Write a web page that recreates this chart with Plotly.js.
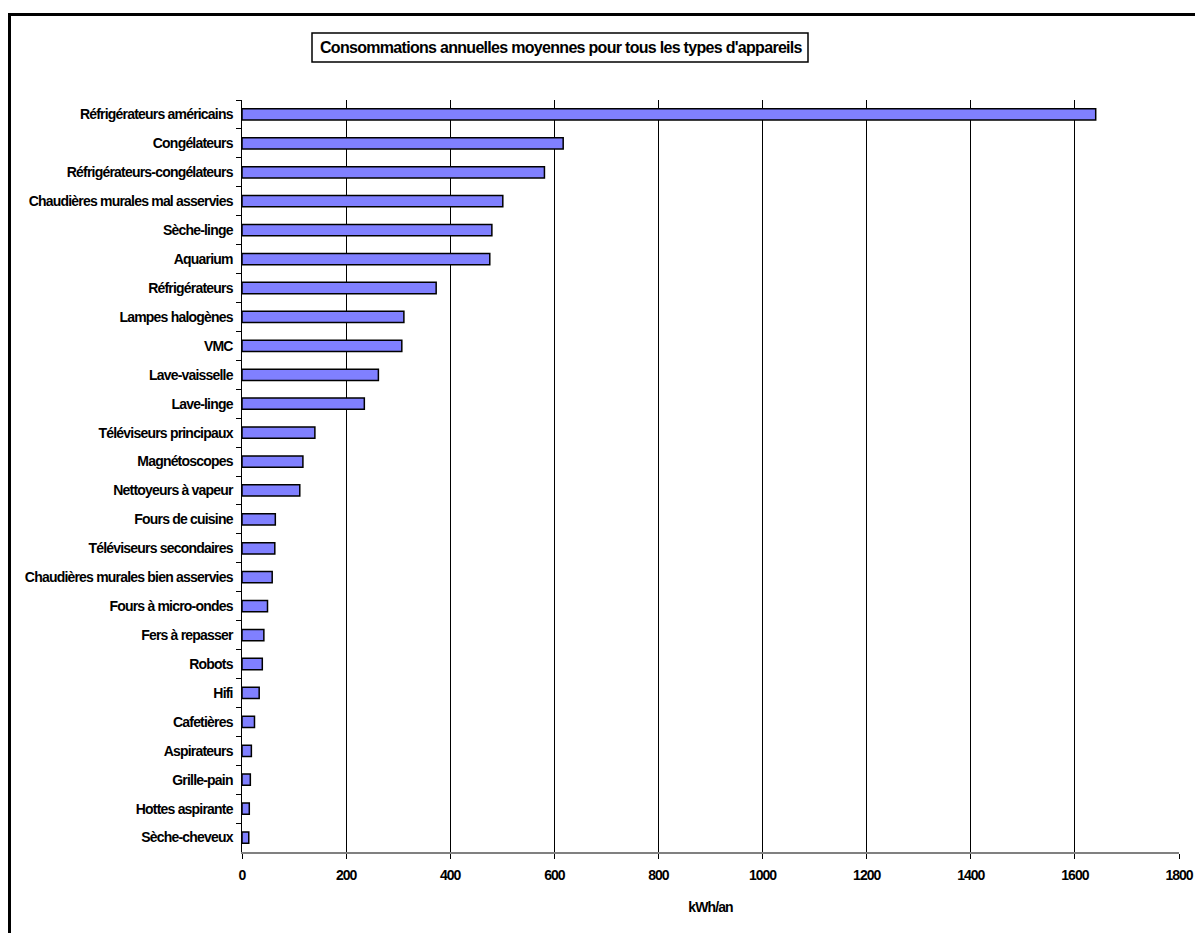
<!DOCTYPE html>
<html>
<head>
<meta charset="utf-8">
<script src="https://cdn.plot.ly/plotly-3.0.1.min.js"></script>
<style>
  html, body { margin: 0; padding: 0; background: #ffffff; }
  #frame { position: absolute; left: 8px; top: 13px; width: 1200px; height: 940px;
           border-left: 3px solid #000; border-top: 3px solid #000; pointer-events: none; z-index: 5; }
  #chart { position: absolute; left: 0; top: 0; width: 1195px; height: 933px; }
  .ytick text { letter-spacing: -0.8px; }
  .xtick text { letter-spacing: -1.0px; }
  .annotation-text { letter-spacing: -0.7px; }
  .g-xtitle text { letter-spacing: -0.9px; }
</style>
</head>
<body>
<div id="chart"></div>
<div id="frame"></div>
<script>
const categories = [
  "Réfrigérateurs américains",
  "Congélateurs",
  "Réfrigérateurs-congélateurs",
  "Chaudières murales mal asservies",
  "Sèche-linge",
  "Aquarium",
  "Réfrigérateurs",
  "Lampes halogènes",
  "VMC",
  "Lave-vaisselle",
  "Lave-linge",
  "Téléviseurs principaux",
  "Magnétoscopes",
  "Nettoyeurs à vapeur",
  "Fours de cuisine",
  "Téléviseurs secondaires",
  "Chaudières murales bien asservies",
  "Fours à micro-ondes",
  "Fers à repasser",
  "Robots",
  "Hifi",
  "Cafetières",
  "Aspirateurs",
  "Grille-pain",
  "Hottes aspirante",
  "Sèche-cheveux"
];
const consumption = [1640, 617, 581, 501, 480, 476, 373, 311, 307, 262, 235, 140, 117, 111, 64, 63, 58, 49, 42, 39, 33, 24, 18, 16, 14, 13];
const xTicks = [0, 200, 400, 600, 800, 1000, 1200, 1400, 1600, 1800];
const chartTitle = "Consommations annuelles moyennes pour tous les types d'appareils";
const xTitle = "kWh/an";

const FONT = "Liberation Sans, Arial, sans-serif";

const trace = {
  type: "bar",
  orientation: "h",
  y: categories,
  x: consumption,
  marker: { color: "#8080FF", line: { color: "#000000", width: 1.5 } },
  hoverinfo: "x+y"
};

const layout = {
  width: 1195,
  height: 933,
  paper_bgcolor: "#ffffff",
  plot_bgcolor: "#ffffff",
  margin: { l: 242, r: 16, t: 100, b: 81, autoexpand: false },
  showlegend: false,
  bargap: 0.61,
  font: { family: FONT, color: "#000000", weight: "bold" },
  xaxis: {
    range: [0, 1800],
    tickvals: xTicks,
    ticktext: xTicks.map(String),
    showgrid: true,
    gridcolor: "#000000",
    gridwidth: 1,
    zeroline: false,
    showline: true,
    linecolor: "#808080",
    linewidth: 1.5,
    ticks: "outside",
    ticklen: 5,
    tickcolor: "#000000",
    tickwidth: 1,
    ticklabelstandoff: 5,
    tickfont: { family: FONT, size: 14, color: "#000000", weight: "bold" },
    title: { text: xTitle, standoff: 20, font: { family: FONT, size: 14, color: "#000000", weight: "bold" } },
    fixedrange: true
  },
  yaxis: {
    type: "category",
    range: [categories.length - 0.5, -0.5],
    showgrid: false,
    zeroline: false,
    showline: true,
    linecolor: "#000000",
    linewidth: 1.5,
    ticks: "outside",
    tickson: "boundaries",
    ticklen: 5,
    tickcolor: "#000000",
    tickwidth: 1,
    ticklabelstandoff: 5,
    tickfont: { family: FONT, size: 14, color: "#000000", weight: "bold" },
    fixedrange: true
  },
  shapes: [
    {
      type: "rect", xref: "paper", yref: "paper",
      x0: (312 - 242) / 937, x1: (808 - 242) / 937,
      y0: (852 - 62) / 752, y1: (852 - 33) / 752,
      line: { color: "#000000", width: 1.5 },
      fillcolor: "rgba(255,255,255,0)"
    }
  ],
  annotations: [
    {
      text: chartTitle,
      xref: "paper", yref: "paper",
      x: (561 - 242) / 937, y: (852 - 47.5) / 752,
      xanchor: "center", yanchor: "middle",
      showarrow: false,
      font: { family: FONT, size: 16, color: "#000000", weight: "bold" }
    }
  ]
};

Plotly.newPlot("chart", [trace], layout, { displayModeBar: false, staticPlot: true });
</script>
</body>
</html>
